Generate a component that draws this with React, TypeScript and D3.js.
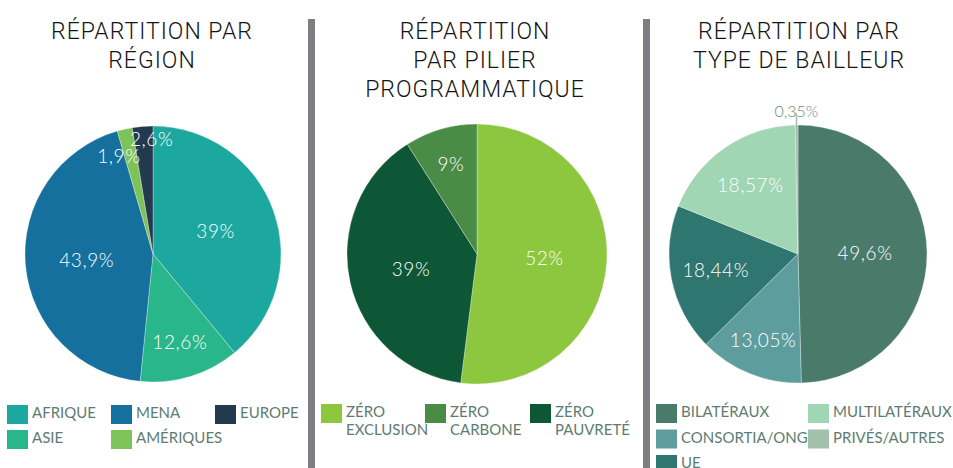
import React from "react";
import * as d3 from "d3";

const W = 953;
const H = 468;

// ---- Data ----
const regionNames = ["AFRIQUE", "ASIE", "MENA", "AMÉRIQUES", "EUROPE"];
const regionValues = [39, 12.6, 43.9, 1.9, 2.6];
const regionColors = ["#1ca89f", "#28b68a", "#15709e", "#7cc35a", "#233a4e"];

const pillarNames = ["ZÉRO|EXCLUSION", "ZÉRO|PAUVRETÉ", "ZÉRO|CARBONE"];
const pillarValues = [52, 39, 9];
const pillarColors = ["#8dc63f", "#0d5736", "#4a8b45"];
const pillarLegendOrder = [0, 2, 1];

const donorNames = ["BILATÉRAUX", "CONSORTIA/ONG", "UE", "MULTILATÉRAUX", "PRIVÉS/AUTRES"];
const donorValues = [49.6, 13.05, 18.44, 18.57, 0.35];
const donorColors = ["#4a7a6a", "#5e9d9e", "#2f7670", "#a0d6b4", "#a2c0aa"];

const titles = [
  ["RÉPARTITION PAR", "RÉGION"],
  ["RÉPARTITION", "PAR PILIER", "PROGRAMMATIQUE"],
  ["RÉPARTITION PAR", "TYPE DE BAILLEUR"],
];

const fmt = (v: number) => String(v).replace(".", ",") + "%";

const labelFrac = (v: number) => (v >= 35 ? 0.52 : v >= 15 ? 0.65 : v >= 5 ? 0.72 : 0.9);

const TITLE_FONT = "Roboto, 'Liberation Sans', sans-serif";
const LABEL_FONT = "Lato, 'Open Sans', sans-serif";
const LEGEND_COLOR = "#5d7c72";

type PieProps = {
  cx: number;
  cy: number;
  r: number;
  values: number[];
  colors: string[];
};

function Pie({ cx, cy, r, values, colors }: PieProps) {
  const arcsData = d3.pie<number>().sort(null).value((d) => d)(values);
  const arc = d3.arc<d3.PieArcDatum<number>>().innerRadius(0).outerRadius(r);
  return (
    <g transform={`translate(${cx},${cy})`}>
      {arcsData.map((a, i) => (
        <path key={i} d={arc(a) || ""} fill={colors[i]} stroke="#ffffff" strokeOpacity={0.5} strokeWidth={0.6} />
      ))}
      {arcsData.map((a, i) => {
        const v = values[i];
        const mid = (a.startAngle + a.endAngle) / 2;
        if (v < 1) {
          const x1 = Math.sin(mid) * r;
          const y1 = -Math.cos(mid) * r;
          const lr = r + 14;
          const lx = Math.sin(mid) * lr;
          const ly = -Math.cos(mid) * lr;
          return (
            <g key={"l" + i}>
              <line x1={x1} y1={y1} x2={lx} y2={ly + 2} stroke={colors[i]} strokeWidth={1.5} />
              <text
                x={lx}
                y={ly}
                textAnchor="middle"
                dy="0.35em"
                fontFamily={LABEL_FONT}
                fontWeight={300}
                fontSize={16}
                fill="#6b8a80"
              >
                {fmt(v)}
              </text>
            </g>
          );
        }
        // collision avoidance for consecutive small slices
        const nextSmall = v < 5 && i + 1 < values.length && values[i + 1] < 5;
        const prevSmall = v < 5 && i > 0 && values[i - 1] < 5;
        const lr = r * (nextSmall ? 0.78 : labelFrac(v));
        const c = d3.arc<d3.PieArcDatum<number>>().innerRadius(lr).outerRadius(lr).centroid(a);
        const shift = nextSmall ? -12 : prevSmall ? 8 : 0;
        return (
          <text
            key={"l" + i}
            x={c[0] + shift}
            y={c[1]}
            textAnchor="middle"
            dy="0.36em"
            fontFamily={LABEL_FONT}
            fontWeight={300}
            fontSize={19}
            letterSpacing={0.6}
            fill="#ffffff"
          >
            {fmt(v)}
          </text>
        );
      })}
    </g>
  );
}

function Title({ cx, lines }: { cx: number; lines: string[] }) {
  return (
    <g>
      {lines.map((t, i) => (
        <text
          key={i}
          x={cx}
          y={39 + i * 29}
          textAnchor="middle"
          fontFamily={TITLE_FONT}
          fontWeight={300}
          fontSize={23}
          letterSpacing={1}
          fill="#151515"
        >
          {t}
        </text>
      ))}
    </g>
  );
}

type LegendItem = { name: string; color: string; x: number; y: number };

function Legend({ items, textDy = 13 }: { items: LegendItem[]; textDy?: number }) {
  return (
    <g>
      {items.map((it, i) => {
        const lines = it.name.split("|");
        return (
          <g key={i}>
            <rect x={it.x} y={it.y} width={21} height={19} fill={it.color} />
            {lines.map((ln, j) => (
              <text
                key={j}
                x={it.x + 25}
                y={it.y + textDy + j * 17.5}
                fontFamily={LABEL_FONT}
                fontSize={15}
                fill={LEGEND_COLOR}
              >
                {ln}
              </text>
            ))}
          </g>
        );
      })}
    </g>
  );
}

export default function App() {
  const leg1Cols = [7, 111, 215];
  const leg1: LegendItem[] = regionNames.map((n, i) => ({
    name: n,
    color: regionColors[i],
    x: leg1Cols[Math.floor(i / 2)],
    y: 405 + (i % 2) * 25,
  }));
  const leg2Cols = [321, 425, 530];
  const leg2: LegendItem[] = pillarLegendOrder.map((idx, k) => ({
    name: pillarNames[idx],
    color: pillarColors[idx],
    x: leg2Cols[k],
    y: 404,
  }));
  const leg3Cols = [656, 808];
  const leg3: LegendItem[] = donorNames.map((n, i) => ({
    name: n,
    color: donorColors[i],
    x: leg3Cols[Math.floor(i / 3)],
    y: 404 + (i % 3) * 25.5,
  }));

  return (
    <svg
      width={W}
      height={H}
      viewBox={`0 0 ${W} ${H}`}
      style={{ position: "absolute", left: 0, top: 0, background: "#ffffff" }}
    >
      <rect x={0} y={0} width={W} height={H} fill="#ffffff" />
      <rect x={308} y={19} width={7} height={H - 19} fill="#7e7e82" />
      <rect x={643} y={19} width={7} height={H - 19} fill="#7e7e82" />

      <Title cx={152} lines={titles[0]} />
      <Title cx={475} lines={titles[1]} />
      <Title cx={799} lines={titles[2]} />

      <Pie cx={153} cy={254} r={128} values={regionValues} colors={regionColors} />
      <Pie cx={477} cy={254} r={130} values={pillarValues} colors={pillarColors} />
      <Pie cx={798} cy={254} r={129} values={donorValues} colors={donorColors} />

      <Legend items={leg1} />
      <Legend items={leg2} />
      <Legend items={leg3} />
    </svg>
  );
}
